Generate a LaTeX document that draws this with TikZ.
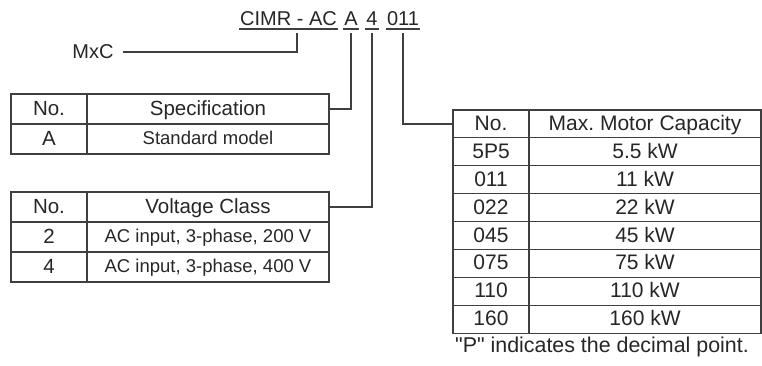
\documentclass[tikz,border=0pt]{standalone}
\usepackage{fontspec}
\setmainfont{Liberation Sans}
\newfontfamily\plainsans{Liberation Sans}
\usetikzlibrary{positioning}
\frenchspacing

\definecolor{ink}{HTML}{262626}
\definecolor{rulegray}{HTML}{3F3F3F}

\tikzset{
  cell/.style={draw=rulegray, line width=1.1pt, inner sep=0pt, outer sep=0pt, text=ink},
  headcell/.style={cell, minimum height=30pt, font=\fontsize{20.5}{22}\selectfont, text height=14.7pt, text depth=2pt},
  bodycell/.style={cell, minimum height=30pt, font=\fontsize{18.5}{20}\selectfont, text height=13.3pt, text depth=1.8pt},
  capcell/.style={cell, minimum height=27.9pt, font=\fontsize{21}{23}\selectfont, text height=15pt, text depth=2pt},
  nocol/.style={minimum width=76pt},
  desccol/.style={minimum width=242pt},
  kwcol/.style={minimum width=232pt},
  code/.style={inner sep=0pt, text=ink, font=\fontsize{20}{22}\selectfont},
  uline/.style={draw=rulegray, line width=1.1pt},
  conn/.style={draw=rulegray, line width=1.1pt},
}

\begin{document}
\begin{tikzpicture}[x=1pt, y=-1pt]
  \useasboundingbox (0,0) rectangle (762,365);

  % model code
  \node[code, anchor=base west] (cimr) at (240,25) {CIMR - AC};
  \node[code, anchor=base] (spec) at (351,25) {A};
  \node[code, anchor=base] (volt) at (372,25) {4};
  \node[code, anchor=base] (cap) at (403,25) {011};
  \draw[uline] ([shift={(-1pt,-4pt)}]cimr.base west) -- ([shift={(1pt,-4pt)}]cimr.base east);
  \draw[uline] ([shift={(-1pt,-4pt)}]spec.base west) -- ([shift={(1pt,-4pt)}]spec.base east);
  \draw[uline] ([shift={(-1pt,-4pt)}]volt.base west) -- ([shift={(1pt,-4pt)}]volt.base east);
  \draw[uline] ([shift={(-1pt,-4pt)}]cap.base west) -- ([shift={(1pt,-4pt)}]cap.base east);

  \node[code] (mxc) at (93,52) {MxC};

  % specification
  \node[headcell, nocol, anchor=north west] (sh1) at (11,94) {No.};
  \node[headcell, desccol, right=0pt of sh1] (sh2) {Specification};
  \node[headcell, nocol, below=0pt of sh1] (sa1) {A};
  \node[bodycell, desccol, right=0pt of sa1] (sa2) {Standard model};

  % voltage class
  \node[headcell, nocol, anchor=north west] (vh1) at (11,192) {No.};
  \node[headcell, desccol, right=0pt of vh1] (vh2) {Voltage Class};
  \node[headcell, nocol, below=0pt of vh1] (v21) {2};
  \node[bodycell, desccol, right=0pt of v21] (v22) {AC input, 3-phase, 200 V};
  \node[headcell, nocol, below=0pt of v21] (v41) {4};
  \node[bodycell, desccol, right=0pt of v41] (v42) {AC input, 3-phase, 400 V};

  % motor capacity
  \node[capcell, nocol, anchor=north west] (mh1) at (453,110) {No.};
  \node[capcell, kwcol, right=0pt of mh1] (mh2) {Max. Motor Capacity};
  \node[capcell, nocol, below=0pt of mh1] (m11) {5P5};
  \node[capcell, kwcol, right=0pt of m11] (m12) {5.5 kW};
  \node[capcell, nocol, below=0pt of m11] (m21) {011};
  \node[capcell, kwcol, right=0pt of m21] (m22) {11 kW};
  \node[capcell, nocol, below=0pt of m21] (m31) {022};
  \node[capcell, kwcol, right=0pt of m31] (m32) {22 kW};
  \node[capcell, nocol, below=0pt of m31] (m41) {045};
  \node[capcell, kwcol, right=0pt of m41] (m42) {45 kW};
  \node[capcell, nocol, below=0pt of m41] (m51) {075};
  \node[capcell, kwcol, right=0pt of m51] (m52) {75 kW};
  \node[capcell, nocol, below=0pt of m51] (m61) {110};
  \node[capcell, kwcol, right=0pt of m61] (m62) {110 kW};
  \node[capcell, nocol, below=0pt of m61] (m71) {160};
  \node[capcell, kwcol, right=0pt of m71] (m72) {160 kW};
  \node[code, anchor=base west, font=\plainsans\fontsize{21.4}{24}\selectfont] (note) at (455,352) {"P" indicates the decimal point.};

  % leaders
  \coordinate (tm) at (297,33);
  \coordinate (ta) at (351,33);
  \coordinate (tv) at (372,33);
  \coordinate (tc) at (403,33);
  \draw[conn] ([xshift=9pt]mxc.east) -| (tm);
  \draw[conn] (sh2.east) -| (ta);
  \draw[conn] (vh2.east) -| (tv);
  \draw[conn] (mh1.west) -| (tc);
\end{tikzpicture}
\end{document}
